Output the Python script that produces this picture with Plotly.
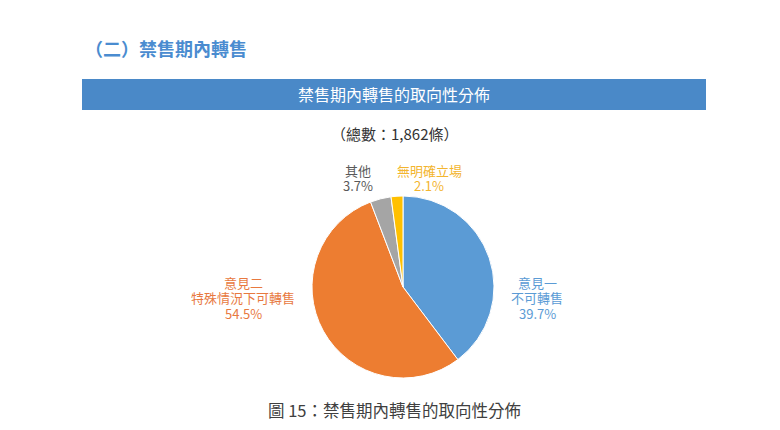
import plotly.graph_objects as go

W, H = 780, 430
categories = ["意見一<br>不可轉售", "意見二<br>特殊情況下可轉售", "其他", "無明確立場"]
shares = [39.7, 54.5, 3.7, 2.1]
slice_colors = ["#5B9BD5", "#ED7D31", "#A5A5A5", "#FFC000"]
label_colors = ["#5B9BD5", "#E8793F", "#595959", "#F3B52E"]
total_text = "（總數：1,862條）"
section_title = "（二）禁售期內轉售"
bar_title = "禁售期內轉售的取向性分佈"
caption = "圖 15：禁售期內轉售的取向性分佈"

FONT = "Noto Sans CJK TC"

def px(x):
    return x / W

def py(y):
    return 1 - y / H

cx, cy, r = 403, 287, 91
fig = go.Figure(go.Pie(
    labels=categories, values=shares, sort=False, direction="clockwise",
    rotation=0, textinfo="none", hoverinfo="label+percent",
    marker=dict(colors=slice_colors, line=dict(color="white", width=1)),
    domain=dict(x=[px(cx - r), px(cx + r)], y=[py(cy + r), py(cy - r)]),
    showlegend=False,
))

shapes = [dict(type="rect", xref="paper", yref="paper",
               x0=px(82), x1=px(706), y0=py(110), y1=py(79),
               fillcolor="#4A89C8", line=dict(width=0), layer="below")]

ann = []
def add(text, x, y, size, color, xanchor="center", weight=None):
    f = dict(family=FONT, size=size, color=color)
    if weight:
        f["weight"] = weight
    ann.append(dict(text=text, x=px(x), y=py(y), xref="paper", yref="paper",
                    xanchor=xanchor, yanchor="middle", showarrow=False, font=f,
                    align="center"))

add(section_title, 83, 48, 18, "#4A8CD0", xanchor="left", weight="bold")
add(bar_title, 394, 94, 16, "white")
add(total_text, 394, 133, 15, "#333333")
label_top = [(537, 282), (243, 282), (358, 170), (429, 170)]
for cat, val, col, (x, y) in zip(categories, shares, label_colors, label_top):
    lines = cat.split("<br>") + [f"{val:.1f}%"]
    for i, line in enumerate(lines):
        add(line, x, y + i * 15.5, 13, col)
add(caption, 394, 410, 16.5, "#404040")

fig.update_layout(width=W, height=H, margin=dict(l=0, r=0, t=0, b=0),
                  paper_bgcolor="white", plot_bgcolor="white",
                  shapes=shapes, annotations=ann, font=dict(family=FONT))
fig.write_html("out.html")
